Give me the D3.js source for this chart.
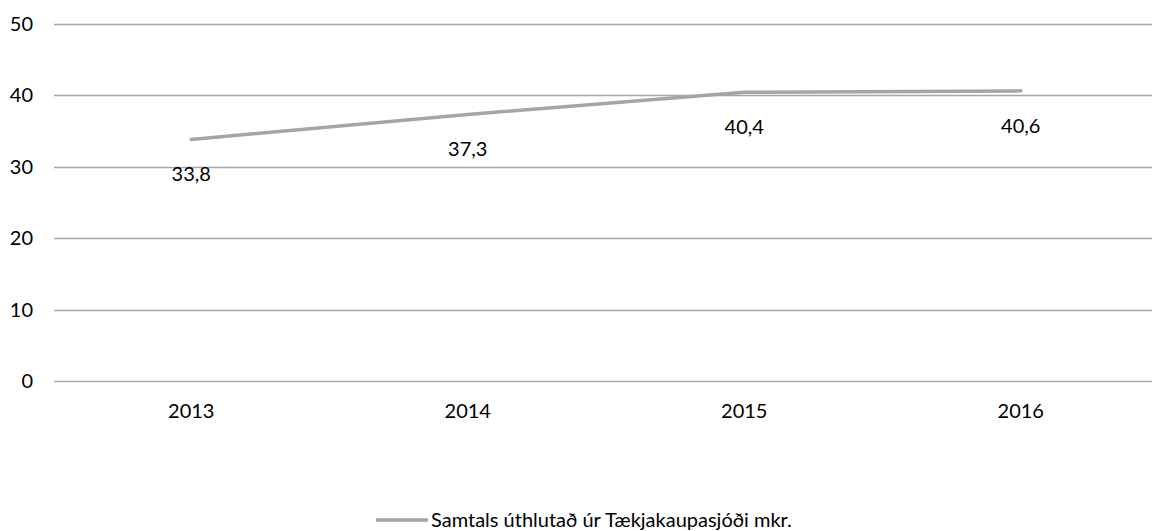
<!DOCTYPE html>
<html>
<head>
<meta charset="utf-8">
<script src="https://cdn.jsdelivr.net/npm/d3@7"></script>
<style>
  body { margin: 0; background: #fff; }
  svg text { font-family: Lato, "Open Sans", sans-serif; fill: #000; }
</style>
</head>
<body>
<svg id="chart" width="1152" height="531"></svg>
<script>
const years = ['2013', '2014', '2015', '2016'];
const values = [33.8, 37.3, 40.4, 40.6];
const yTicks = [0, 10, 20, 30, 40, 50];
const seriesName = 'Samtals úthlutað úr Tækjakaupasjóði mkr.';

const svg = d3.select('#chart');
const lineColor = '#a5a5a5';
const fontSize = '20px';

const x = d3.scaleBand().domain(years).range([53, 1159]);
const y = d3.scaleLinear().domain([0, 50]).range([381, 23.7]);
const cx = d => x(d) + x.bandwidth() / 2;

// gridlines
svg.append('g')
    .selectAll('line')
    .data(yTicks)
    .enter()
    .append('line')
    .attr('x1', 54)
    .attr('x2', 1152)
    .attr('y1', d => Math.round(y(d)) + 0.5)
    .attr('y2', d => Math.round(y(d)) + 0.5)
    .style('stroke', '#a6a6a6')
    .style('stroke-width', '1.3px');

// y labels
svg.append('g')
    .selectAll('text')
    .data(yTicks)
    .enter()
    .append('text')
    .attr('x', 33)
    .attr('y', d => y(d))
    .attr('dy', '0.35em')
    .attr('text-anchor', 'end')
    .style('font-size', fontSize)
    .text(d => d);

// x labels
svg.append('g')
    .selectAll('text')
    .data(years)
    .enter()
    .append('text')
    .attr('x', d => cx(d))
    .attr('y', 411)
    .attr('dy', '0.35em')
    .attr('text-anchor', 'middle')
    .style('font-size', fontSize)
    .text(d => d);

// line
const line = d3.line()
    .x((d, i) => cx(years[i]))
    .y(d => y(d));

svg.append('path')
    .datum(values)
    .attr('d', line)
    .style('fill', 'none')
    .style('stroke', lineColor)
    .style('stroke-width', '3.5px')
    .style('stroke-linecap', 'round');

// value labels
svg.append('g')
    .selectAll('text')
    .data(values)
    .enter()
    .append('text')
    .attr('x', (d, i) => cx(years[i]))
    .attr('y', d => y(d) + 35)
    .attr('dy', '0.35em')
    .attr('text-anchor', 'middle')
    .style('font-size', fontSize)
    .text(d => d.toFixed(1).replace('.', ','));

// legend
const legend = svg.append('g');
legend.append('line')
    .attr('x1', 376)
    .attr('x2', 428)
    .attr('y1', 520)
    .attr('y2', 520)
    .style('stroke', lineColor)
    .style('stroke-width', '3.5px');
legend.append('text')
    .attr('x', 431)
    .attr('y', 520)
    .attr('dy', '0.35em')
    .style('font-size', fontSize)
    .text(seriesName);
</script>
</body>
</html>
